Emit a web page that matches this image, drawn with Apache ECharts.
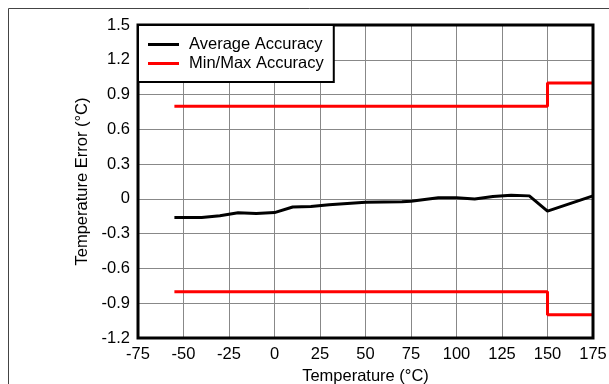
<!DOCTYPE html>
<html>
<head>
<meta charset="utf-8">
<script src="https://cdn.jsdelivr.net/npm/echarts@6/dist/echarts.min.js"></script>
<style>
  html, body { margin: 0; padding: 0; background: #fff; }
</style>
</head>
<body>
<div id="chart" style="width: 609px; height: 384px;"></div>
<script>
// average accuracy curve
var avgTemp = [-55, -40, -30, -20, -10, 0, 10, 20, 30, 50, 70, 75, 90, 100, 110, 120, 130, 140, 150, 175];
var avgErr = [-0.16, -0.16, -0.145, -0.12, -0.125, -0.118, -0.07, -0.065, -0.05, -0.03, -0.024, -0.02, 0.01, 0.01, 0.0, 0.02, 0.032, 0.026, -0.105, 0.026];
// min/max limits
var limTemp = [-55, 150, 150, 175];
var maxErr = [0.8, 0.8, 1.0, 1.0];
var minErr = [-0.8, -0.8, -1.0, -1.0];

function pairs(xs, ys) {
  return xs.map(function (x, i) { return [x, ys[i]]; });
}

var myChart = echarts.init(document.getElementById("chart"));
var font = "Liberation Sans, Arial, sans-serif";
var option = {
  animation: false,
  textStyle: { fontFamily: font },
  graphic: [{
    type: "rect",
    shape: { x: 8.5, y: 8.5, width: 800, height: 600 },
    style: { fill: "none", stroke: "#444", lineWidth: 1 },
    silent: true,
    z: -10
  }],
  grid: {
    left: 138,
    right: 16,
    top: 25,
    bottom: 46,
    outerBoundsMode: "none",
    show: true,
    borderColor: "#000",
    borderWidth: 3,
    z: 10
  },
  legend: {
    data: ["Average Accuracy", "Min/Max Accuracy"],
    orient: "vertical",
    left: 138,
    top: 25,
    icon: "rect",
    itemWidth: 31,
    itemHeight: 3,
    itemGap: 2,
    padding: [11, 10, 10, 10],
    backgroundColor: "#fff",
    borderColor: "#000",
    borderWidth: 2,
    textStyle: { fontSize: 16.5, lineHeight: 16, color: "#000", fontFamily: font, padding: [0, 0, 0, 5] },
    z: 20
  },
  xAxis: {
    type: "value",
    min: -75,
    max: 175,
    interval: 25,
    name: "Temperature (°C)",
    nameLocation: "middle",
    nameGap: 28,
    nameTextStyle: { fontSize: 16.5, color: "#000" },
    axisLine: { show: false },
    axisTick: { show: false },
    axisLabel: { fontSize: 16.5, color: "#000", margin: 8 },
    splitLine: { show: true, lineStyle: { color: "#888", width: 1 } }
  },
  yAxis: {
    type: "value",
    min: -1.2,
    max: 1.5,
    interval: 0.3,
    name: "Temperature Error (°C)",
    nameLocation: "middle",
    nameGap: 46,
    nameTextStyle: { fontSize: 16.5, color: "#000" },
    axisLine: { show: false },
    axisTick: { show: false },
    axisLabel: {
      fontSize: 16.5,
      color: "#000",
      margin: 8,
      formatter: function (v) {
        var r = Math.round(v * 10) / 10;
        return r === 0 ? "0" : r.toFixed(1);
      }
    },
    splitLine: { show: true, lineStyle: { color: "#888", width: 1 } }
  },
  series: [
    {
      name: "Average Accuracy",
      type: "line",
      data: pairs(avgTemp, avgErr),
      symbol: "none",
      lineStyle: { color: "#000", width: 3 },
      itemStyle: { color: "#000" },
      z: 5
    },
    {
      name: "Min/Max Accuracy",
      type: "line",
      data: pairs(limTemp, maxErr),
      symbol: "none",
      lineStyle: { color: "#ff0000", width: 3 },
      itemStyle: { color: "#ff0000" },
      z: 4
    },
    {
      name: "Min/Max Accuracy",
      type: "line",
      data: pairs(limTemp, minErr),
      symbol: "none",
      lineStyle: { color: "#ff0000", width: 3 },
      itemStyle: { color: "#ff0000" },
      z: 4
    }
  ]
};
myChart.setOption(option);
</script>
</body>
</html>
